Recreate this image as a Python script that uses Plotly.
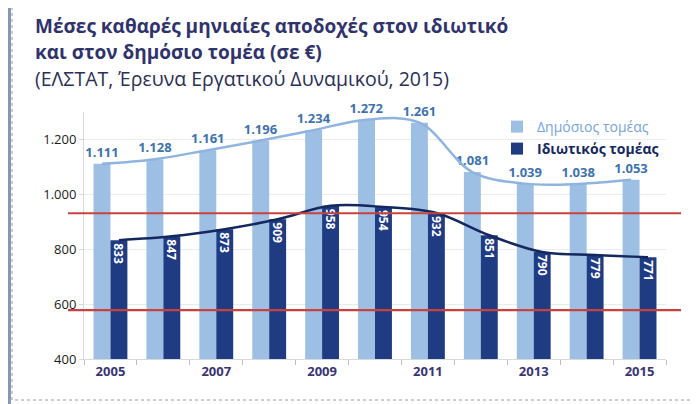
import plotly.graph_objects as go

years = [2005, 2006, 2007, 2008, 2009, 2010, 2011, 2012, 2013, 2014, 2015]
public_sector = [1111, 1128, 1161, 1196, 1234, 1272, 1261, 1081, 1039, 1038, 1053]
private_sector = [833, 847, 873, 909, 958, 954, 932, 851, 790, 779, 771]
ref_lines = [931, 578]
year_ticks = [2005, 2007, 2009, 2011, 2013, 2015]
y_ticks = [400, 600, 800, 1000, 1200]

LIGHT = "#9dbfe3"
DARK = "#1f3b82"
OFF = 8  # page body margin of the browser
W, H = 700 - OFF, 404 - OFF
ML, MR, MT, MB = 84 - OFF, 34, 112 - OFF, 45
PW, PH = W - ML - MR, H - MT - MB

def px_x(p):
    return (p - OFF - ML) / PW

def px_y(p):
    return (H - MB - (p - OFF)) / PH

fig = go.Figure()
fig.add_trace(go.Bar(
    x=years, y=public_sector, width=0.32, offset=-0.32,
    marker=dict(color=LIGHT, line=dict(width=0)),
    name="Δημόσιος τομέας", legend="legend",
    texttemplate="%{y:,}", textposition="outside", cliponaxis=False,
    constraintext="none",
    textfont=dict(family="Open Sans", size=13, color="#3f72ab", weight="bold"),
))
fig.add_trace(go.Bar(
    x=years, y=private_sector, width=0.32, offset=0,
    marker=dict(color=DARK, line=dict(width=0)),
    name="Ιδιωτικός τομέας", legend="legend2",
    texttemplate="%{y}", textposition="inside", insidetextanchor="end",
    textangle=90, constraintext="none",
    textfont=dict(family="Open Sans", size=12, color="white", weight="bold"),
))
fig.add_trace(go.Scatter(
    x=[y - 0.16 for y in years], y=public_sector, mode="lines",
    line=dict(color="#8fb4de", width=2.5, shape="spline", smoothing=1.0),
    showlegend=False, hoverinfo="skip",
))
fig.add_trace(go.Scatter(
    x=[y + 0.16 for y in years], y=private_sector, mode="lines",
    line=dict(color="#14285e", width=2.5, shape="spline", smoothing=1.0),
    showlegend=False, hoverinfo="skip",
))

shapes = []
for v in ref_lines:
    shapes.append(dict(type="line", xref="paper", yref="y",
                       x0=px_x(68), x1=px_x(681), y0=v, y1=v,
                       line=dict(color="#c9423c", width=2.2), layer="above"))
# page decorations
shapes.append(dict(type="rect", xref="paper", yref="paper",
                   x0=px_x(0), x1=px_x(11), y0=px_y(0), y1=px_y(404),
                   fillcolor="#8797b2", line=dict(width=0), layer="below"))
shapes.append(dict(type="rect", xref="paper", yref="paper",
                   x0=px_x(12), x1=px_x(697), y0=px_y(6), y1=px_y(400),
                   fillcolor="rgba(0,0,0,0)",
                   line=dict(color="#9a9a9a", width=1, dash="dot"), layer="below"))

annotations = [
    dict(text="<b>Μέσες καθαρές μηνιαίες αποδοχές στον ιδιωτικό</b>",
         x=px_x(33), y=px_y(26), font=dict(size=19, color="#30336b")),
    dict(text="<b>και στον δημόσιο τομέα (σε €)</b>",
         x=px_x(33), y=px_y(52), font=dict(size=19, color="#30336b")),
    dict(text="(ΕΛΣΤΑΤ, Έρευνα Εργατικού Δυναμικού, 2015)",
         x=px_x(33), y=px_y(78), font=dict(size=19.5, color="#2b2f55")),
]
for a in annotations:
    a.update(xref="paper", yref="paper", xanchor="left", yanchor="middle",
             showarrow=False)
    a["font"]["family"] = "Open Sans"

fig.update_layout(
    width=W, height=H,
    margin=dict(l=ML, r=MR, t=MT, b=MB),
    paper_bgcolor="white", plot_bgcolor="white",
    separators=",.",
    barmode="overlay",
    font=dict(family="Open Sans"),
    shapes=shapes, annotations=annotations,
    legend=dict(x=px_x(497), y=px_y(111), xanchor="left", yanchor="top",
                bgcolor="rgba(0,0,0,0)", itemwidth=30,
                font=dict(size=14, color="#78a3d6")),
    legend2=dict(x=px_x(497), y=px_y(133), xanchor="left", yanchor="top",
                 bgcolor="rgba(0,0,0,0)", itemwidth=30,
                 font=dict(size=14, color="#14285e", weight="bold")),
    xaxis=dict(range=[2004.5, 2015.5], tickvals=year_ticks,
               ticktext=[str(y) for y in year_ticks], ticks="",
               tickfont=dict(size=13, color="#3a3472", weight="bold"),
               showgrid=False, zeroline=False,
               showline=True, linecolor="#d9d9d9", linewidth=1,
               minor=dict(tickvals=[y - 0.5 for y in years] + [2015.5],
                          ticks="outside", ticklen=5, tickcolor="#bfbfbf",
                          showgrid=False)),
    yaxis=dict(range=[400, 1300], tickvals=y_ticks, tickformat=",d",
               tickfont=dict(size=13, color="#1a1a1a"),
               showgrid=True, gridcolor="#ececec", zeroline=False,
               showline=True, linecolor="#d9d9d9", linewidth=1,
               ticks="outside", ticklen=4, tickcolor="#d9d9d9"),
)

fig.write_html("out.html")
